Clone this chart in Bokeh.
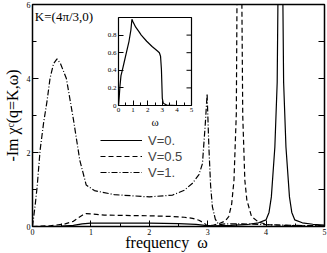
from bokeh.plotting import figure
from bokeh.models import Range1d, Legend, LegendItem, Label, FixedTicker, NumeralTickFormatter
from bokeh.layouts import column
from bokeh.embed import file_html
from bokeh.resources import INLINE

# ---- data ----
w_v0 = [0.0, 0.3, 0.5, 0.7, 0.85, 1.0, 1.5, 2.0, 2.5, 2.8, 2.95, 3.1, 3.4, 3.7, 3.87, 4.0,
        4.05, 4.09, 4.15, 4.19, 4.205, 4.245, 4.285, 4.30, 4.34, 4.40, 4.44, 4.49, 4.62, 4.8, 5.0]
chi_v0 = [0.0, 0.0, 0.01, 0.03, 0.07, 0.09, 0.09, 0.09, 0.08, 0.06, 0.03, 0.02, 0.03, 0.06, 0.10, 0.18,
          0.38, 0.8, 2.15, 3.9, 6.5, 14.0, 6.5, 3.9, 2.15, 0.8, 0.38, 0.18, 0.10, 0.06, 0.04]

w_v05 = [0.0, 0.3, 0.56, 0.7, 0.78, 0.86, 0.92, 1.0, 1.23, 1.5, 2.0, 2.4, 2.6, 2.74, 2.85, 2.94,
         3.0, 3.1, 3.2, 3.3, 3.36, 3.41, 3.45, 3.49, 3.503, 3.543, 3.583, 3.60, 3.636, 3.67, 3.75,
         3.87, 4.03, 4.3, 4.6, 5.0]
chi_v05 = [0.0, 0.02, 0.07, 0.14, 0.23, 0.31, 0.35, 0.34, 0.31, 0.30, 0.29, 0.27, 0.25, 0.22, 0.17, 0.09,
           0.01, 0.04, 0.08, 0.15, 0.27, 0.6, 1.25, 3.05, 6.5, 14.0, 6.5, 3.0, 1.25, 0.72, 0.27,
           0.12, 0.05, 0.03, 0.02, 0.02]

w_v1 = [0.0, 0.05, 0.08, 0.13, 0.19, 0.25, 0.30, 0.36, 0.42, 0.48, 0.58, 0.70, 0.81, 0.92, 1.06,
        1.4, 2.0, 2.4, 2.6, 2.74, 2.85, 2.91, 2.96, 2.99, 3.02, 3.05, 3.08, 3.13, 3.19, 3.3,
        3.6, 4.0, 4.5, 5.0]
chi_v1 = [0.0, 0.64, 1.08, 2.06, 2.8, 3.4, 4.0, 4.4, 4.53, 4.4, 4.0, 2.9, 1.79, 1.12, 0.97,
          0.86, 0.8, 0.85, 0.98, 1.17, 1.4, 1.7, 2.8, 3.59, 2.15, 1.1, 0.54, 0.2, 0.05, 0.07,
          0.07, 0.05, 0.03, 0.02]

w_in = [0.0, 0.05, 0.1, 0.17, 0.26, 0.4, 0.54, 0.72, 0.85, 0.92, 1.0, 1.18, 1.4, 1.56, 1.93,
        2.3, 2.67, 2.8, 2.88, 2.94, 3.0, 3.06, 3.13, 3.3, 4.0, 5.0]
chi_in = [0.0, 0.1, 0.22, 0.34, 0.40, 0.5, 0.60, 0.73, 0.86, 0.98, 0.95, 0.89, 0.84, 0.80, 0.73,
          0.67, 0.62, 0.60, 0.56, 0.41, 0.08, 0.03, 0.02, 0.005, 0.0, 0.0]

series_labels = ["V=0.", "V=0.5", "V=1."]
main_xticks = [0, 1, 2, 3, 4, 5]
main_yticks = [0, 2, 4, 6]
main_right_ticks = [0, 1, 2, 3, 4, 5, 6]
inset_xticks = [0, 1, 2, 3, 4, 5]
inset_yticks = [0, 0.2, 0.4, 0.6, 0.8]
inset_right_ticks = [0.2, 0.4, 0.6, 0.8, 1.0]

SERIF = "Liberation Serif"
NB = "\u00a0"


def style_axis(ax, font_size, tick_in, minor_in):
    ax.axis_line_color = None
    ax.major_tick_in = tick_in
    ax.major_tick_out = 0
    ax.minor_tick_in = minor_in
    ax.minor_tick_out = 0
    ax.major_tick_line_color = "black"
    ax.minor_tick_line_color = "black"
    ax.major_tick_line_width = 1
    ax.minor_tick_line_width = 1
    ax.major_label_text_font = SERIF
    ax.major_label_text_color = "black"
    ax.major_label_standoff = 2
    ax.major_label_text_font_size = font_size
    ax.axis_label_text_font = SERIF
    ax.axis_label_text_font_style = "normal"
    ax.axis_label_text_color = "black"


# ---- main figure ----
p = figure(width=327, height=253, output_backend="svg", toolbar_location=None,
           x_range=Range1d(0, 5), y_range=Range1d(0, 6),
           min_border_left=27, min_border_right=3, min_border_top=4, min_border_bottom=26,
           y_axis_label="-Im χᶜ(q=K,ω)",
           x_axis_label="frequency" + NB + NB + "ω" + NB * 6)
p.xgrid.visible = False
p.ygrid.visible = False
p.outline_line_color = "black"
p.outline_line_width = 1.5
p.background_fill_color = "white"
p.border_fill_color = "white"

p.xaxis.ticker = FixedTicker(ticks=main_xticks, minor_ticks=[t + 0.5 for t in main_xticks[:-1]])
p.yaxis.ticker = FixedTicker(ticks=main_yticks, minor_ticks=[1, 3, 5])
style_axis(p.xaxis[0], "8px", 6, 3)
style_axis(p.yaxis[0], "8px", 6, 4)
p.yaxis.axis_label_text_font_size = "16px"
p.yaxis.axis_label_standoff = 3
p.xaxis.axis_label_text_font_size = "16px"
p.xaxis.axis_label_standoff = -4

# mirrored ticks on the right edge (half of each dash is clipped by the frame)
p.scatter([5] * len(main_right_ticks), main_right_ticks, marker="dash", size=12,
          line_color="black", line_width=1)

lw = 1.2
r0 = p.line(w_v0, chi_v0, line_color="black", line_width=lw)
r1 = p.line(w_v05, chi_v05, line_color="black", line_width=lw, line_dash="5 3")
r2 = p.line(w_v1, chi_v1, line_color="black", line_width=lw, line_dash="6 2 1 2")

legend = Legend(items=[LegendItem(label=series_labels[0], renderers=[r0]),
                       LegendItem(label=series_labels[1], renderers=[r1]),
                       LegendItem(label=series_labels[2], renderers=[r2])],
                location=(68, 46), glyph_width=42, glyph_height=16, label_height=16,
                spacing=0, padding=0, margin=0, label_standoff=6,
                label_text_font="Liberation Sans", label_text_font_size="13px",
                background_fill_alpha=0, border_line_alpha=0)
p.add_layout(legend, "center")

p.add_layout(Label(x=0.04, y=5.88, text="K=(4π/3,0)", text_font=SERIF, text_font_size="13px",
                   text_baseline="top", text_color="black"))

# ---- inset ----
ins = figure(width=108, height=114, output_backend="svg", toolbar_location=None,
             x_range=Range1d(0, 5), y_range=Range1d(0, 1),
             min_border_left=16, min_border_right=2, min_border_top=1, min_border_bottom=22,
             x_axis_label="ω")
ins.margin = (-237, 0, 0, 86)
ins.xgrid.visible = False
ins.ygrid.visible = False
ins.outline_line_color = "black"
ins.outline_line_width = 1.2
ins.background_fill_color = "white"
ins.border_fill_alpha = 0
ins.xaxis.ticker = FixedTicker(ticks=inset_xticks, minor_ticks=[t + 0.5 for t in inset_xticks[:-1]])
ins.yaxis.ticker = FixedTicker(ticks=inset_yticks)
ins.yaxis.formatter = NumeralTickFormatter(format="0.[0]")
style_axis(ins.xaxis[0], "7px", 5, 3)
style_axis(ins.yaxis[0], "7px", 5, 3)
ins.xaxis.axis_label_text_font_size = "11px"
ins.xaxis.axis_label_standoff = 1
ins.scatter([5] * len(inset_right_ticks), inset_right_ticks, marker="dash", size=10,
            line_color="black", line_width=1)
ins.line(w_in, chi_in, line_color="black", line_width=lw)

layout = column(p, ins)
open("out.html", "w").write(file_html(layout, INLINE))
